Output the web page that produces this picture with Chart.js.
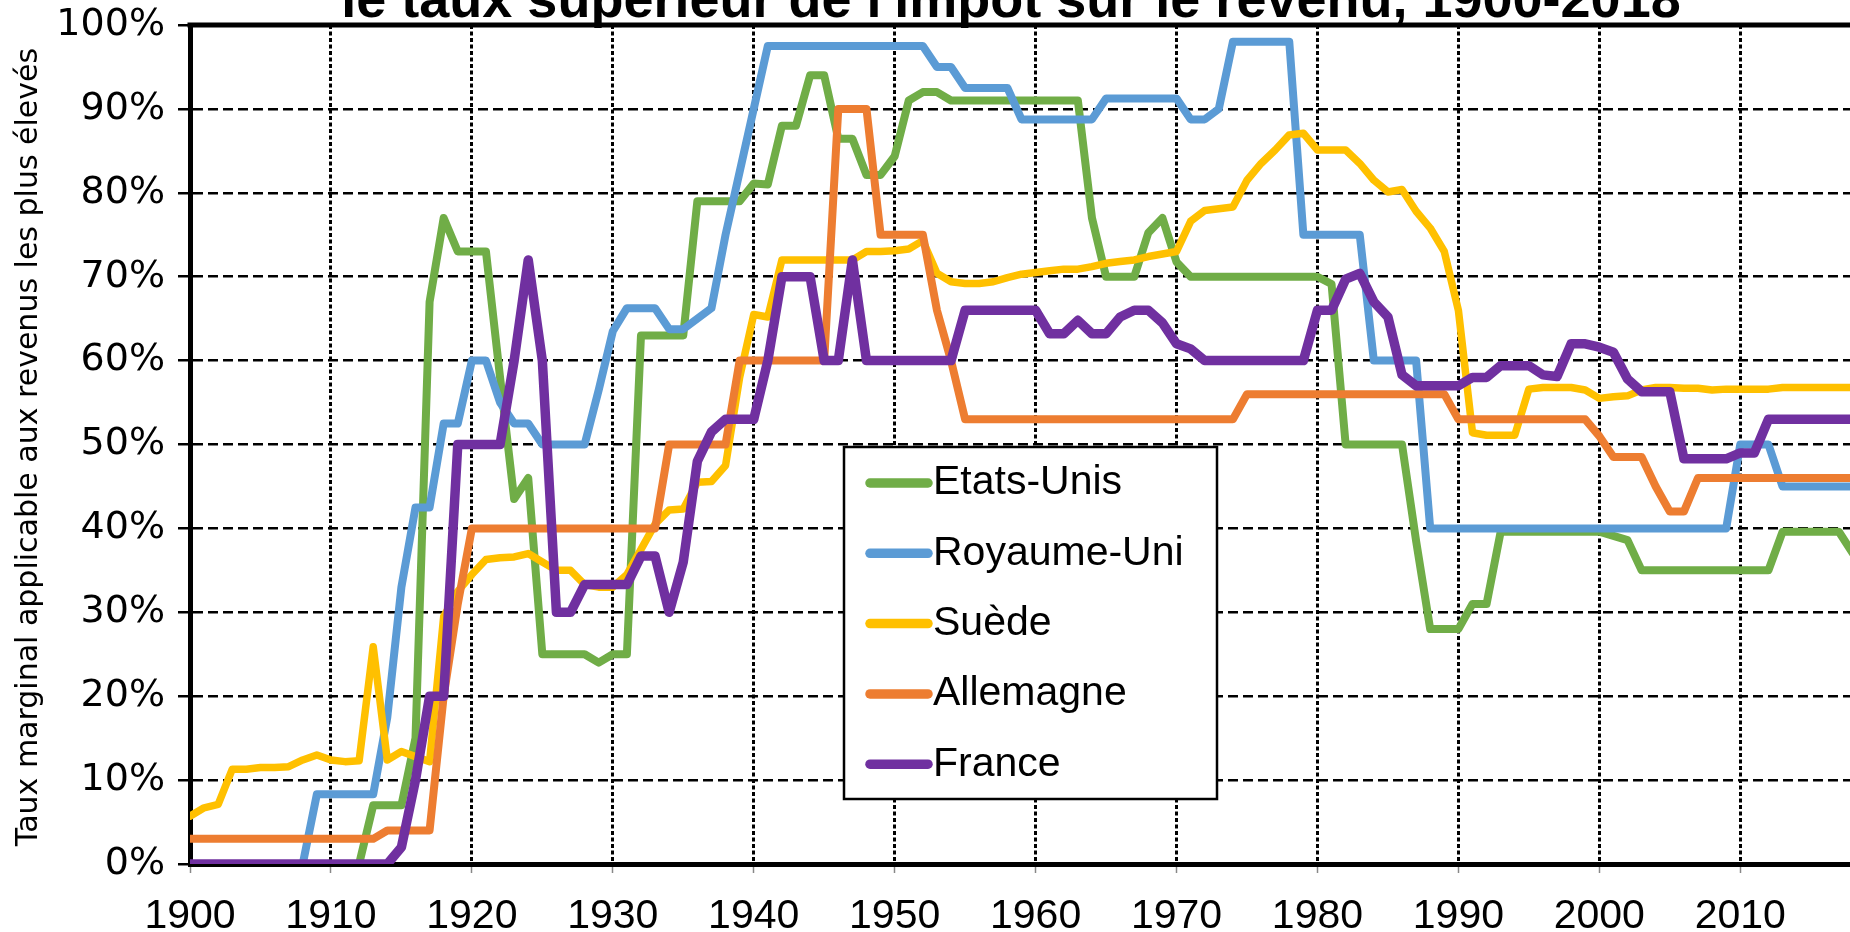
<!DOCTYPE html>
<html><head><meta charset="utf-8">
<script src="https://cdn.jsdelivr.net/npm/chart.js@4.4.1/dist/chart.umd.min.js"></script>
<style>
html,body{margin:0;padding:0;overflow:hidden;background:#fff;width:1850px;height:932px}
#wrap{position:absolute;left:0;top:0;width:1853px;height:932px}
</style></head>
<body><div id="wrap"><canvas id="c" width="1853" height="932"></canvas></div>
<script>
const years = [
1900,1901,1902,1903,1904,1905,1906,1907,1908,1909,
1910,1911,1912,1913,1914,1915,1916,1917,1918,1919,
1920,1921,1922,1923,1924,1925,1926,1927,1928,1929,
1930,1931,1932,1933,1934,1935,1936,1937,1938,1939,
1940,1941,1942,1943,1944,1945,1946,1947,1948,1949,
1950,1951,1952,1953,1954,1955,1956,1957,1958,1959,
1960,1961,1962,1963,1964,1965,1966,1967,1968,1969,
1970,1971,1972,1973,1974,1975,1976,1977,1978,1979,
1980,1981,1982,1983,1984,1985,1986,1987,1988,1989,
1990,1991,1992,1993,1994,1995,1996,1997,1998,1999,
2000,2001,2002,2003,2004,2005,2006,2007,2008,2009,
2010,2011,2012,2013,2014,2015,2016,2017,2018];

const etatsUnis = [
0,0,0,0,0,0,0,0,0,0,
0,0,0,7,7,7,15,67,77,73,
73,73,58,43.5,46,25,25,25,25,24,
25,25,63,63,63,63,79,79,79,79,
81.1,81,88,88,94,94,86.45,86.45,82.13,82.13,
84.36,91,92,92,91,91,91,91,91,91,
91,91,91,91,77,70,70,70,75.25,77,
71.75,70,70,70,70,70,70,70,70,70,
70,69.13,50,50,50,50,50,38.5,28,28,
28,31,31,39.6,39.6,39.6,39.6,39.6,39.6,39.6,
39.6,39.1,38.6,35,35,35,35,35,35,35,
35,35,35,39.6,39.6,39.6,39.6,39.6,37];

const royaumeUni = [
0,0,0,0,0,0,0,0,0,8.3,
8.3,8.3,8.3,8.3,17.5,33,42.5,42.5,52.5,52.5,
60,60,55,52.5,52.5,50,50,50,50,56.5,
63.5,66.25,66.25,66.25,63.75,63.75,65,66.25,75,82.5,
90,97.5,97.5,97.5,97.5,97.5,97.5,97.5,97.5,97.5,
97.5,97.5,97.5,95,95,92.5,92.5,92.5,92.5,88.75,
88.75,88.75,88.75,88.75,88.75,91.25,91.25,91.25,91.25,91.25,
91.25,88.75,88.75,90,98,98,98,98,98,75,
75,75,75,75,60,60,60,60,40,40,
40,40,40,40,40,40,40,40,40,40,
40,40,40,40,40,40,40,40,40,40,
50,50,50,45,45,45,45,45,45];

const suede = [
5.7,6.7,7.1,11.3,11.3,11.5,11.5,11.6,12.4,13,
12.4,12.2,12.3,25.9,12.4,13.4,12.8,12.2,29.5,32.5,
34.5,36.3,36.5,36.6,37,36,35,35,33.3,33,
33,34.5,37.5,40.5,42.2,42.3,45.5,45.6,47.5,58,
65.5,65.2,72,72,72,72,72,72,73,73,
73.1,73.3,74.3,70.4,69.4,69.2,69.2,69.4,69.9,70.3,
70.5,70.7,70.9,70.9,71.2,71.6,71.8,72,72.4,72.7,
73,76.6,77.9,78.1,78.3,81.5,83.5,85.1,86.9,87.1,
85.1,85.1,85.1,83.5,81.5,80.1,80.4,77.8,75.8,73,
66,51.4,51.1,51.1,51.1,56.6,56.8,56.8,56.8,56.5,
55.5,55.7,55.8,56.5,56.8,56.8,56.7,56.7,56.5,56.6,
56.6,56.6,56.6,56.8,56.8,56.8,56.8,56.8,56.8];

const allemagne = [
3,3,3,3,3,3,3,3,3,3,
3,3,3,3,4,4,4,4,20,31,
40,40,40,40,40,40,40,40,40,40,
40,40,40,40,50,50,50,50,50,60,
60,60,60,60,60,60,90,90,90,75,
75,75,75,66,60,53,53,53,53,53,
53,53,53,53,53,53,53,53,53,53,
53,53,53,53,53,56,56,56,56,56,
56,56,56,56,56,56,56,56,56,56,
53,53,53,53,53,53,53,53,53,53,
51,48.5,48.5,48.5,45,42,42,46,46,46,
46,46,46,46,46,46,46,46,46];

const france = [
0,0,0,0,0,0,0,0,0,0,
0,0,0,0,0,2,10,20,20,50,
50,50,50,60,72,60,30,30,33.3,33.3,
33.3,33.3,36.7,36.7,30,36,48,51.5,53,53,
53,60,70,70,70,60,60,72,60,60,
60,60,60,60,60,66,66,66,66,66,
66,63.2,63.2,64.8,63.2,63.2,65.2,66,66,64.5,
62,61.4,60,60,60,60,60,60,60,60,
66,66,69.7,70.4,67,65.2,58.3,57,57,57,
57,58,58,59.4,59.4,59.4,58.3,58.1,62,62,
61.6,61,57.8,56.3,56.3,56.3,48.3,48.3,48.3,48.3,
49,49,53,53,53,53,53,53,53];

const seriesNames = ['Etats-Unis','Royaume-Uni','Suède','Allemagne','France'];
const seriesValues = [etatsUnis, royaumeUni, suede, allemagne, france];
const seriesColors = ['#70AD47','#5B9BD5','#FFC000','#ED7D31','#7030A0'];
const seriesWidths = [8,8,7.5,8,9.5];
const seriesOrder = [5,4,3,2,1];

const xTickValues = [1900,1910,1920,1930,1940,1950,1960,1970,1980,1990,2000,2010];
const yTickValues = [0,10,20,30,40,50,60,70,80,90,100];

const titleText = "le taux supérieur de l'impôt sur le revenu, 1900-2018";
const yAxisTitle = 'Taux marginal applicable aux revenus les plus élevés';

const datasets = seriesNames.map((name, k) => ({
  label: name,
  data: years.map((yr, i) => ({x: yr, y: seriesValues[k][i]})),
  borderColor: seriesColors[k],
  backgroundColor: seriesColors[k],
  borderWidth: seriesWidths[k],
  pointRadius: 0,
  tension: 0,
  fill: false,
  borderJoinStyle: 'round',
  borderCapStyle: 'round',
  order: seriesOrder[k]
}));

const decor = {
  id: 'decor',
  afterDraw(chart) {
    const ctx = chart.ctx, a = chart.chartArea;
    ctx.save();
    ctx.strokeStyle = '#000'; ctx.lineWidth = 5;
    ctx.beginPath(); ctx.moveTo(a.left - 2.5, a.top); ctx.lineTo(a.right, a.top); ctx.stroke();
    ctx.fillStyle = '#000';
    ctx.font = 'bold 54px "Liberation Sans", Arial, sans-serif';
    ctx.textAlign = 'center'; ctx.textBaseline = 'alphabetic';
    ctx.fillText(titleText, 1011, 17);
    ctx.restore();

    ctx.save();
    ctx.fillStyle = '#000';
    ctx.font = '30px "DejaVu Sans", sans-serif';
    ctx.translate(29.5, 447);
    ctx.rotate(-Math.PI / 2);
    ctx.textAlign = 'center'; ctx.textBaseline = 'middle';
    ctx.fillText(yAxisTitle, 0, 0);
    ctx.restore();

    const L = {x: 844, y: 447, w: 373, h: 352, row0: 483, step: 70.3, l1: 870, l2: 928, tx: 933};
    ctx.save();
    ctx.fillStyle = '#fff';
    ctx.fillRect(L.x, L.y, L.w, L.h);
    ctx.strokeStyle = '#000'; ctx.lineWidth = 2.5;
    ctx.strokeRect(L.x, L.y, L.w, L.h);
    chart.data.datasets.forEach((ds, i) => {
      const y = L.row0 + i * L.step;
      ctx.strokeStyle = ds.borderColor; ctx.lineWidth = 9.5; ctx.lineCap = 'round';
      ctx.beginPath(); ctx.moveTo(L.l1, y); ctx.lineTo(L.l2, y); ctx.stroke();
      ctx.fillStyle = '#000';
      ctx.font = '41px "Liberation Sans", Arial, sans-serif';
      ctx.textAlign = 'left'; ctx.textBaseline = 'middle';
      ctx.fillText(ds.label, L.tx, y);
    });
    ctx.restore();
  }
};

new Chart(document.getElementById('c'), {
  type: 'line',
  data: {datasets},
  plugins: [decor],
  options: {
    responsive: false,
    animation: false,
    layout: {padding: {top: 25, left: 0, right: 0, bottom: 0}},
    plugins: {legend: {display: false}, tooltip: {enabled: false}, title: {display: false}},
    scales: {
      x: {
        type: 'linear', min: 1900, max: 2018,
        afterBuildTicks: s => { s.ticks = xTickValues.map(v => ({value: v})); },
        afterFit: s => { s.height = 68; },
        grid: {color: '#000', lineWidth: 3, drawTicks: true, tickLength: 9, tickColor: '#888', tickWidth: 1.5},
        border: {display: true, color: '#000', width: 5, dash: [4, 2.5]},
        ticks: {color: '#000', padding: 19, maxRotation: 0, autoSkip: false,
          font: {family: '"Liberation Sans", Arial, sans-serif', size: 41},
          callback: v => String(v)}
      },
      y: {
        type: 'linear', min: 0, max: 100,
        afterBuildTicks: s => { s.ticks = yTickValues.map(v => ({value: v})); },
        afterFit: s => { s.width = 190; s.paddingTop = 0; s.paddingBottom = 0; },
        grid: {color: '#000', lineWidth: 2.5, drawTicks: true, tickLength: 12, tickColor: '#000', tickWidth: 2.5},
        border: {display: true, color: '#000', width: 5, dash: [10, 5]},
        ticks: {color: '#000', padding: 13, autoSkip: false,
          font: {family: '"DejaVu Sans", sans-serif', size: 38},
          callback: v => v + '%'}
      }
    }
  }
});
</script>
</body></html>
